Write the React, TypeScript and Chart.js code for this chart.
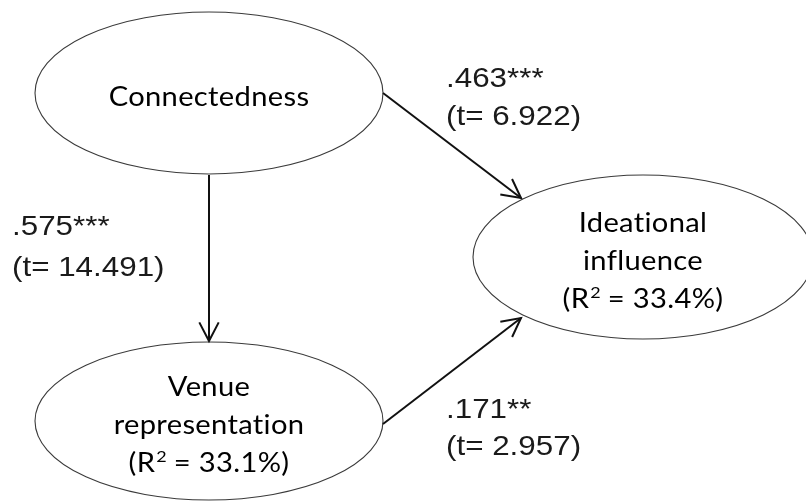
import React, { useEffect, useRef } from "react";
import { Chart, registerables } from "chart.js";
Chart.register(...registerables);

// ---- Nodes (latent constructs) ----
const nodeLines = [["Connectedness"], ["Venue", "representation"], ["Ideational", "influence"]];
const nodeR2 = [null, "33.1%", "33.4%"];
// layout in diagram units
const nodeCx = [209, 209, 643];
const nodeCy = [93, 421, 257];
const nodeRx = [174, 174, 170];
const nodeRy = [81, 79, 82];

// ---- Paths ----
const edgeCoef = [".575***", ".463***", ".171**"];
const edgeT = ["14.491", "6.922", "2.957"];
const edgeStart = [[209, 175], [383, 93], [383, 424]];
const edgeEnd = [[209, 341], [521, 198], [521, 318]];
const edgeLabelX = [12, 446, 446];
const edgeLabelY1 = [235, 87, 418];
const edgeLabelY2 = [276, 125, 455];

const NODE_FONT = "Lato, 'Open Sans', sans-serif";
const PATH_FONT = "'Liberation Sans', Arial, sans-serif";
const NODE_SIZE = 26;
const NODE_STRETCH = 1.12;
const PATH_STRETCH = 1.12;

function drawStretched(ctx: CanvasRenderingContext2D, text: string, x: number, y: number, sx: number) {
  ctx.save();
  ctx.translate(x, y);
  ctx.scale(sx, 1);
  ctx.textAlign = "left";
  ctx.textBaseline = "alphabetic";
  ctx.fillText(text, 0, 0);
  ctx.restore();
}

const diagramPlugin = {
  id: "diagram",
  beforeDatasetsDraw(chart: any) {
    const { ctx, scales } = chart;
    const x = scales.x, y = scales.y;
    ctx.save();
    nodeCx.forEach((cx, i) => {
      const px = x.getPixelForValue(cx);
      const py = y.getPixelForValue(nodeCy[i]);
      const rx = Math.abs(x.getPixelForValue(cx + nodeRx[i]) - px);
      const ry = Math.abs(y.getPixelForValue(nodeCy[i] + nodeRy[i]) - py);
      ctx.beginPath();
      ctx.ellipse(px, py, rx, ry, 0, 0, Math.PI * 2);
      ctx.fillStyle = "#ffffff";
      ctx.fill();
      ctx.lineWidth = 1.1;
      ctx.strokeStyle = "#3a3a3a";
      ctx.stroke();
    });
    ctx.restore();
  },
  afterDatasetsDraw(chart: any) {
    const { ctx, scales } = chart;
    const x = scales.x, y = scales.y;
    ctx.save();
    // arrowheads
    edgeEnd.forEach((e, i) => {
      const s = edgeStart[i];
      const sx = x.getPixelForValue(s[0]), sy = y.getPixelForValue(s[1]);
      const ex = x.getPixelForValue(e[0]), ey = y.getPixelForValue(e[1]);
      const ang = Math.atan2(ey - sy, ex - sx);
      const len = 21, spread = 0.48;
      ctx.beginPath();
      ctx.moveTo(ex - len * Math.cos(ang - spread), ey - len * Math.sin(ang - spread));
      ctx.lineTo(ex, ey);
      ctx.lineTo(ex - len * Math.cos(ang + spread), ey - len * Math.sin(ang + spread));
      ctx.lineWidth = 2;
      ctx.strokeStyle = "#111";
      ctx.lineJoin = "miter";
      ctx.stroke();
    });
    // path labels
    ctx.fillStyle = "#1a1a1a";
    ctx.font = `28px ${PATH_FONT}`;
    edgeCoef.forEach((c, i) => {
      const lx = x.getPixelForValue(edgeLabelX[i]);
      drawStretched(ctx, c, lx, y.getPixelForValue(edgeLabelY1[i]), PATH_STRETCH);
      drawStretched(ctx, `(t= ${edgeT[i]})`, lx, y.getPixelForValue(edgeLabelY2[i]), PATH_STRETCH);
    });
    // node labels
    ctx.fillStyle = "#000";
    try { (ctx as any).letterSpacing = "0.3px"; } catch (e) {}
    const lineH = 38;
    const big = `${NODE_SIZE}px ${NODE_FONT}`;
    const small = `${Math.round(NODE_SIZE * 0.62)}px ${NODE_FONT}`;
    nodeLines.forEach((lines, i) => {
      const cx = x.getPixelForValue(nodeCx[i]);
      const cy = y.getPixelForValue(nodeCy[i]);
      const all: any[] = lines.map((t) => ({ t }));
      if (nodeR2[i]) all.push({ r2: nodeR2[i] });
      const n = all.length;
      const midBase = cy + 13;
      all.forEach((ln, k) => {
        const base = midBase + (k - (n - 1) / 2) * lineH;
        if (ln.t) {
          ctx.font = big;
          const w = ctx.measureText(ln.t).width * NODE_STRETCH;
          drawStretched(ctx, ln.t, cx - w / 2, base, NODE_STRETCH);
        } else {
          const p1 = "(R", p2 = "2", p3 = ` = ${ln.r2})`;
          ctx.font = big;
          const w1 = ctx.measureText(p1).width, w3 = ctx.measureText(p3).width;
          ctx.font = small;
          const w2 = ctx.measureText(p2).width;
          const total = (w1 + w2 + w3) * NODE_STRETCH;
          let px = cx - total / 2;
          ctx.font = big;
          drawStretched(ctx, p1, px, base, NODE_STRETCH);
          px += w1 * NODE_STRETCH;
          ctx.font = small;
          drawStretched(ctx, p2, px + 1, base - 10, NODE_STRETCH);
          px += w2 * NODE_STRETCH;
          ctx.font = big;
          drawStretched(ctx, p3, px, base, NODE_STRETCH);
        }
      });
    });
    ctx.restore();
  },
};

export default function App() {
  const ref = useRef<HTMLCanvasElement>(null);
  useEffect(() => {
    document.body.style.margin = "0";
    document.body.style.overflow = "hidden";
    document.body.style.background = "#fff";
    const datasets = edgeStart.map((s, i) => ({
      label: `${edgeCoef[i]}`,
      data: [
        { x: s[0], y: s[1] },
        { x: edgeEnd[i][0], y: edgeEnd[i][1] },
      ],
      showLine: true,
      borderColor: "#111",
      borderWidth: 2,
      pointRadius: 0,
      fill: false,
    }));
    const chart = new Chart(ref.current as HTMLCanvasElement, {
      type: "scatter",
      data: { datasets },
      options: {
        animation: false,
        responsive: false,
        layout: { padding: 0 },
        plugins: { legend: { display: false }, tooltip: { enabled: false } },
        scales: {
          x: { type: "linear", min: 0, max: 806, display: false },
          y: { type: "linear", min: 0, max: 502, reverse: true, display: false },
        },
      },
      plugins: [diagramPlugin],
    });
    return () => chart.destroy();
  }, []);
  return (
    <div style={{ width: 806, height: 502, background: "#fff" }}>
      <canvas ref={ref} width={806} height={502} style={{ display: "block" }} />
    </div>
  );
}
